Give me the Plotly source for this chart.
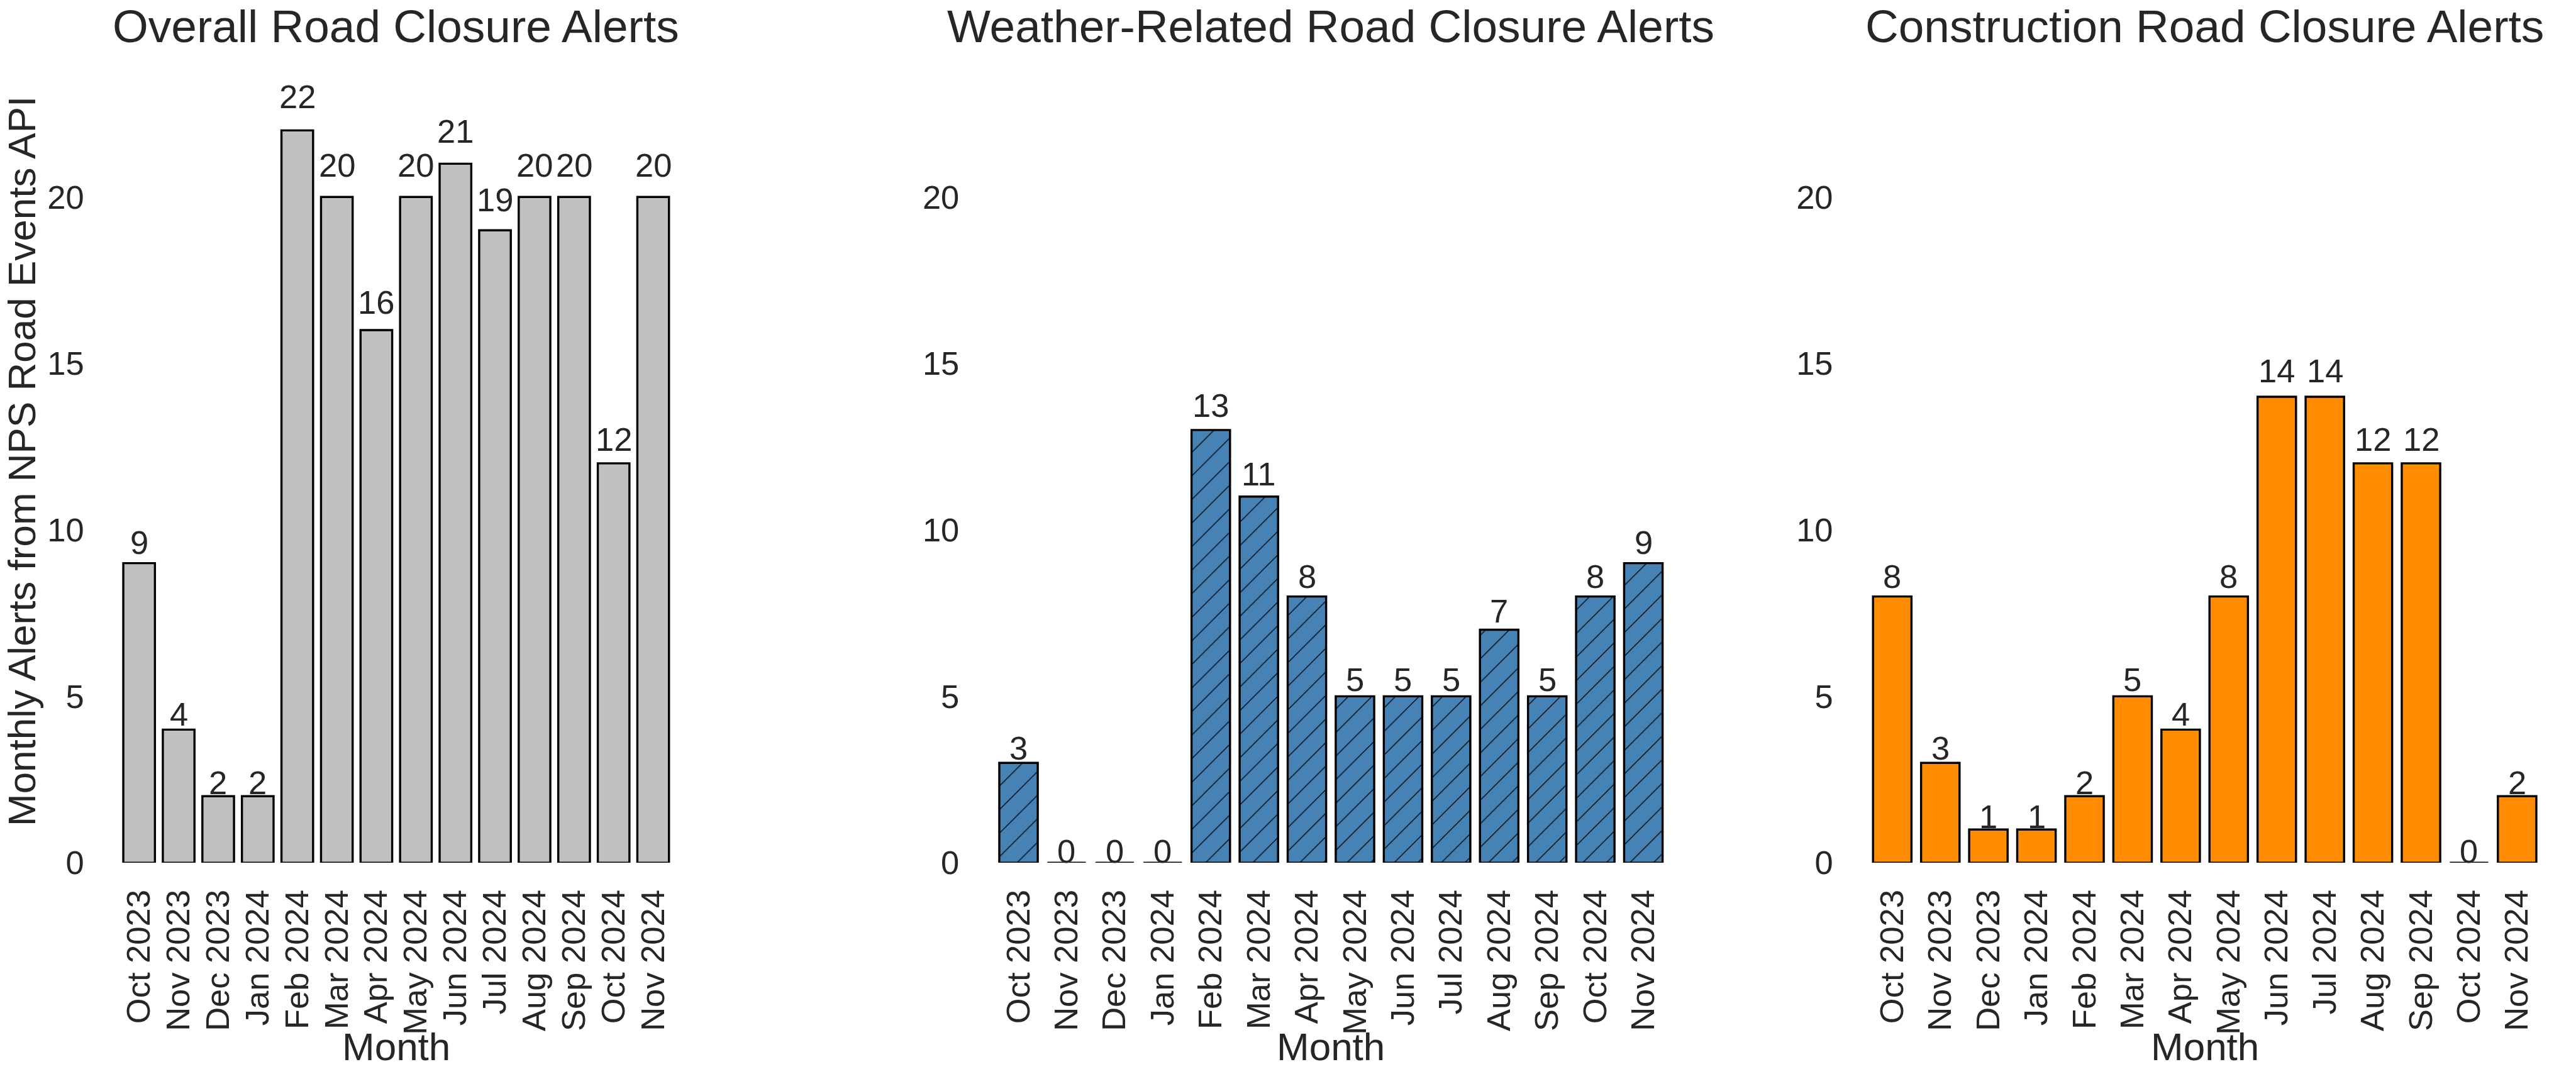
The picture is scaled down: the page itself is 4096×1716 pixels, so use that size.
import plotly.graph_objects as go

months = ["Oct 2023", "Nov 2023", "Dec 2023", "Jan 2024", "Feb 2024", "Mar 2024", "Apr 2024",
          "May 2024", "Jun 2024", "Jul 2024", "Aug 2024", "Sep 2024", "Oct 2024", "Nov 2024"]
overall = [9, 4, 2, 2, 22, 20, 16, 20, 21, 19, 20, 20, 12, 20]
weather = [3, 0, 0, 0, 13, 11, 8, 5, 5, 5, 7, 5, 8, 9]
construction = [8, 3, 1, 1, 2, 5, 4, 8, 14, 14, 12, 12, 0, 2]
titles = ["Overall Road Closure Alerts", "Weather-Related Road Closure Alerts",
          "Construction Road Closure Alerts"]
y_ticks = [0, 5, 10, 15, 20]
y_label = "Monthly Alerts from NPS Road Events API"
x_label = "Month"

TXT = "#262626"
FONT = "Arial, Liberation Sans, Helvetica, sans-serif"
TICK_FS = 52.5
LABEL_FS = 62
TITLE_FS = 73

domains = [(0.04633, 0.26123), (0.38606, 0.64728), (0.72524, 0.98647)]
ydom = (0.18665, 0.94295)

fig = go.Figure()
series = [overall, weather, construction]
colors = ["#C0C0C0", "#4682B4", "#FF8C00"]
for i, (vals, col) in enumerate(zip(series, colors)):
    xa = "x" if i == 0 else f"x{i+1}"
    ya = "y" if i == 0 else f"y{i+1}"
    marker = dict(color=col, line=dict(color="black", width=3.4))
    if i == 1:
        marker["pattern"] = dict(shape="/", size=26.5, solidity=0.05,
                                 fgcolor="black", fgopacity=1)
    fig.add_trace(go.Bar(x=months, y=vals, marker=marker, width=0.8,
                         xaxis=xa, yaxis=ya, showlegend=False))
    for m, v in zip(months, vals):
        fig.add_annotation(x=m, y=v * 1.03, xref=xa, yref=ya, text=str(v),
                           showarrow=False, xanchor="center", yanchor="middle",
                           yshift=0.36 * TICK_FS,
                           font=dict(family=FONT, size=TICK_FS, color=TXT))
    xc = (domains[i][0] + domains[i][1]) / 2
    fig.add_annotation(x=xc, y=0.9752, xref="paper", yref="paper", text=titles[i],
                       showarrow=False, xanchor="center", yanchor="middle",
                       font=dict(family=FONT, size=TITLE_FS, color=TXT))
    fig.add_annotation(x=xc, y=0.0135, xref="paper", yref="paper", text=x_label,
                       showarrow=False, xanchor="center", yanchor="middle",
                       font=dict(family=FONT, size=LABEL_FS, color=TXT))

fig.add_annotation(x=34 / 4096, y=0.5649, xref="paper", yref="paper", text=y_label,
                   showarrow=False, xanchor="center", yanchor="middle", textangle=-90,
                   font=dict(family=FONT, size=LABEL_FS, color=TXT))

layout = dict(width=4096, height=1716, margin=dict(l=0, r=0, t=0, b=0),
              paper_bgcolor="white", plot_bgcolor="white", autosize=False,
              bargap=0.2)
for i in range(3):
    xk = "xaxis" if i == 0 else f"xaxis{i+1}"
    yk = "yaxis" if i == 0 else f"yaxis{i+1}"
    layout[xk] = dict(domain=list(domains[i]), range=[-0.5, 13.5], type="category",
                      anchor="y" if i == 0 else f"y{i+1}",
                      tickmode="array", tickvals=months, ticktext=months,
                      showgrid=False, zeroline=False, showline=False,
                      ticks="outside", ticklen=3, tickcolor="rgba(0,0,0,0)",
                      tickangle=-90, tickfont=dict(family=FONT, size=TICK_FS, color=TXT),
                      ticklabelstandoff=18)
    layout[yk] = dict(domain=list(ydom), range=[0, 24.1],
                      anchor="x" if i == 0 else f"x{i+1}",
                      showgrid=False, zeroline=False, showline=False, ticks="",
                      tickvals=y_ticks, ticktext=[str(t) for t in y_ticks],
                      tickfont=dict(family=FONT, size=TICK_FS, color=TXT),
                      ticklabelstandoff=55)
fig.update_layout(**layout)
fig.write_html("out.html")
